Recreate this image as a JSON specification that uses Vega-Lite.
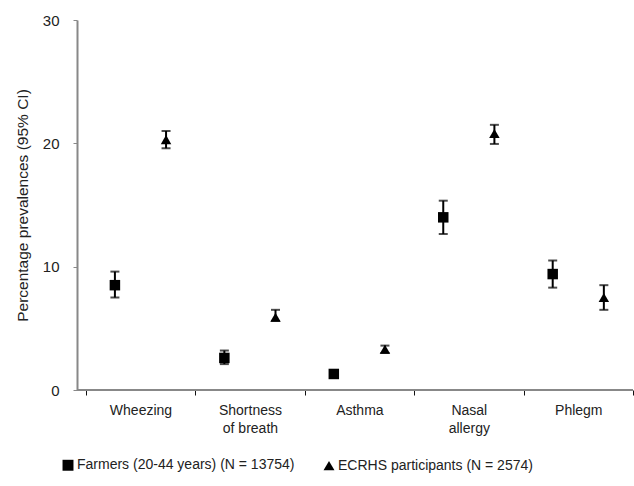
{
  "$schema": "https://vega.github.io/schema/vega-lite/v6.json",
  "autosize": {"type": "none"},
  "width": 556,
  "height": 370,
  "padding": {"left": 77, "top": 20, "right": 1, "bottom": 96},
  "config": {
    "view": {"stroke": null},
    "font": "Liberation Sans",
    "axis": {"labelFont": "Liberation Sans", "titleFont": "Liberation Sans", "labelColor": "#222", "titleColor": "#222"},
    "legend": {"labelFont": "Liberation Sans"}
  },
  "data": {
    "values": [
      {"symptom": "Wheezing", "group": "Farmers (20-44 years) (N = 13754)", "value": 8.5, "lo": 7.5, "hi": 9.6},
      {"symptom": "Wheezing", "group": "ECRHS participants (N = 2574)", "value": 20.3, "lo": 19.6, "hi": 21.0},
      {"symptom": "Shortness of breath", "group": "Farmers (20-44 years) (N = 13754)", "value": 2.6, "lo": 2.1, "hi": 3.2},
      {"symptom": "Shortness of breath", "group": "ECRHS participants (N = 2574)", "value": 5.9, "lo": 5.6, "hi": 6.5},
      {"symptom": "Asthma", "group": "Farmers (20-44 years) (N = 13754)", "value": 1.3, "lo": 1.1, "hi": 1.5},
      {"symptom": "Asthma", "group": "ECRHS participants (N = 2574)", "value": 3.3, "lo": 3.0, "hi": 3.6},
      {"symptom": "Nasal allergy", "group": "Farmers (20-44 years) (N = 13754)", "value": 14.0, "lo": 12.65, "hi": 15.35},
      {"symptom": "Nasal allergy", "group": "ECRHS participants (N = 2574)", "value": 20.8, "lo": 19.95, "hi": 21.5},
      {"symptom": "Phlegm", "group": "Farmers (20-44 years) (N = 13754)", "value": 9.4, "lo": 8.3, "hi": 10.5},
      {"symptom": "Phlegm", "group": "ECRHS participants (N = 2574)", "value": 7.5, "lo": 6.5, "hi": 8.5}
    ]
  },
  "layer": [
    {
      "mark": {"type": "rule", "color": "#888", "strokeWidth": 2},
      "encoding": {"y": {"datum": 0, "type": "quantitative"}}
    },
    {
      "encoding": {
        "x": {
          "field": "symptom",
          "type": "nominal",
          "sort": null,
          "scale": {"paddingInner": 0, "paddingOuter": 0.04, "align": 1},
          "axis": {
            "title": null,
            "labelAngle": 0,
            "labelFontSize": 14,
            "labelPadding": 8,
            "labelLineHeight": 18,
            "labelExpr": "datum.label == 'Shortness of breath' ? ['Shortness', 'of breath'] : datum.label == 'Nasal allergy' ? ['Nasal', 'allergy'] : datum.label",
            "tickBand": "extent",
            "tickColor": "#111",
            "tickSize": 5,
            "domain": false
          }
        },
        "xOffset": {
          "field": "group",
          "type": "nominal",
          "sort": ["Farmers (20-44 years) (N = 13754)", "ECRHS participants (N = 2574)"],
          "scale": {"paddingInner": 0, "paddingOuter": 0.07}
        }
      },
      "layer": [
        {
          "mark": {"type": "rule", "color": "#000", "strokeWidth": 2},
          "encoding": {
            "y": {"field": "lo", "type": "quantitative"},
            "y2": {"field": "hi"}
          }
        },
        {
          "mark": {"type": "tick", "color": "#000", "thickness": 2, "size": 9},
          "encoding": {"y": {"field": "lo", "type": "quantitative"}}
        },
        {
          "mark": {"type": "tick", "color": "#000", "thickness": 2, "size": 9},
          "encoding": {"y": {"field": "hi", "type": "quantitative"}}
        },
        {
          "mark": {"type": "point", "filled": true, "opacity": 1, "size": 110},
          "encoding": {
            "y": {
              "field": "value",
              "type": "quantitative",
              "scale": {"domain": [0, 30]},
              "axis": {
                "title": "Percentage prevalences (95% CI)",
                "titleFontSize": 15.5,
                "titleFontWeight": "normal",
                "titlePadding": 12,
                "values": [0, 10, 20, 30],
                "grid": false,
                "labelFontSize": 15,
                "labelPadding": 14,
                "domainColor": "#888",
                "domainWidth": 2,
                "tickColor": "#888",
                "tickSize": 4
              }
            },
            "shape": {
              "field": "group",
              "type": "nominal",
              "sort": ["Farmers (20-44 years) (N = 13754)", "ECRHS participants (N = 2574)"],
              "scale": {"range": ["square", "triangle-up"]},
              "legend": {
                "title": null,
                "orient": "none",
                "direction": "horizontal",
                "legendX": -16,
                "legendY": 438,
                "labelFontSize": 14,
                "labelColor": "#222",
                "labelLimit": 0,
                "symbolFillColor": "#000",
                "symbolStrokeColor": "#000",
                "symbolSize": 120,
                "symbolOffset": 0,
                "labelOffset": 2,
                "columnPadding": 25
              }
            },
            "color": {"value": "#000"}
          }
        }
      ]
    }
  ]
}
